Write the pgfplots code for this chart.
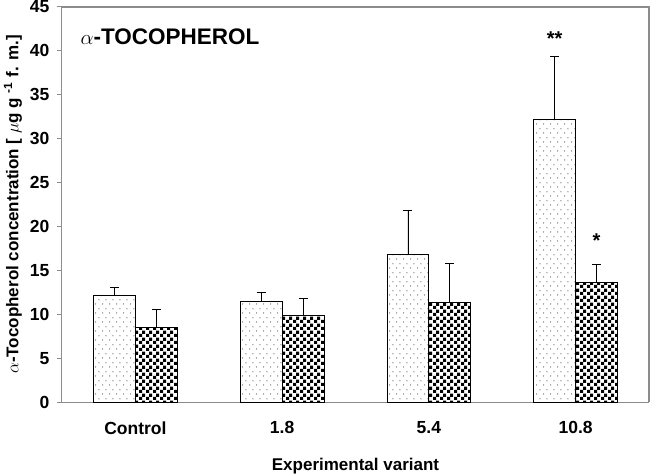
\documentclass[border=0pt]{standalone}
\usepackage{pgfplots}
\pgfplotsset{compat=1.18}
\usepackage{pgfplotstable}
\usepackage{fontspec}
\setmainfont{Liberation Sans}
\usetikzlibrary{patterns.meta}

\definecolor{axisgray}{RGB}{140,140,140}

% sparse staggered dots
\tikzdeclarepattern{name=sparsedots, type=uncolored,
  bottom left={(0pt,0pt)}, top right={(7.3pt,8.6pt)}, tile size={(7.3pt,8.6pt)},
  code={\fill (1.8pt,2.15pt) circle (0.6pt); \fill (5.45pt,6.45pt) circle (0.6pt);}}
% checkerboard, ~3.3pt squares
\tikzdeclarepattern{name=checker, type=uncolored,
  bottom left={(0pt,0pt)}, top right={(6.6pt,6.6pt)}, tile size={(6.6pt,6.6pt)},
  code={\fill (0pt,0pt) rectangle (3.3pt,3.3pt); \fill (3.3pt,3.3pt) rectangle (6.6pt,6.6pt);}}

% x = category index, y = mean, e = SD (upper only)
\pgfplotstableread{
x y e
0 12.19 0.87
1 11.50 0.95
2 16.82 5.05
3 32.23 7.18
}\dotted
\pgfplotstableread{
x y e
0 8.46 2.13
1 9.91 1.86
2 11.39 4.36
3 13.63 2.01
}\checked

\begin{document}
\begin{tikzpicture}
\begin{axis}[
    scale only axis,
    width=587pt, height=395pt,
    xmin=-0.5, xmax=3.5,
    ymin=0, ymax=45,
    clip=false,
    axis x line*=bottom, axis y line*=left,
    axis line style={axisgray, line width=1pt, -},
    ytick={0,5,...,45},
    xtick={0,1,2,3},
    xticklabels={Control,1.8,5.4,10.8},
    extra x ticks={-0.5,0.5,1.5,2.5},
    extra x tick labels={},
    extra x tick style={major tick length=6pt, tick style={axisgray, line width=1pt}},
    x tick style={draw=none},
    y tick style={axisgray, line width=1pt},
    tick align=outside,
    major tick length=5pt,
    /pgf/number format/assume math mode=true,
    ticklabel style={font=\bfseries\fontsize{17.5}{20}\selectfont},
    xticklabel style={yshift=-11pt},
    yticklabel style={xshift=-4pt},
    every axis y label/.style={at={(rel axis cs:0,0.5)}, xshift=-49pt, rotate=90, anchor=center},
    every axis x label/.style={at={(rel axis cs:0.5,0)}, anchor=base, yshift=-68pt},
    label style={font=\bfseries\fontsize{17}{20}\selectfont},
    ylabel={$\alpha$-Tocopherol concentration [ $\mu$g g \textsuperscript{-1} f. m.]},
    xlabel={Experimental variant},
    ybar=0pt, bar width=0.2857,
    error bars/error bar style={black, line width=0.8pt},
    error bars/error mark options={rotate=90, mark size=4.5pt, line width=0.8pt, black},
  ]
  \addplot[draw=black, line width=0.8pt, fill=white, postaction={pattern=sparsedots, pattern color=black!80},
    error bars/.cd, y dir=plus, y explicit]
    table[x=x, y=y, y error=e] {\dotted};
  \addplot[draw=black, line width=0.8pt, fill=white, postaction={pattern=checker, pattern color=black},
    error bars/.cd, y dir=plus, y explicit]
    table[x=x, y=y, y error=e] {\checked};

  \node[anchor=base west, font=\bfseries\fontsize{22.5}{26}\selectfont] at (axis cs:-0.398,40.77) {$\alpha$-TOCOPHEROL};
  \node[font=\bfseries\fontsize{20}{22}\selectfont] at (axis cs:2.857,41.4) {**};
  \node[font=\bfseries\fontsize{20}{22}\selectfont] at (axis cs:3.143,18.4) {*};

  % top and right frame
  \draw[draw=axisgray, line width=1.4pt] (rel axis cs:0,1) -- (rel axis cs:1,1) -- (rel axis cs:1,0);

  \coordinate (bl) at (rel axis cs:0,0);
  \coordinate (tr) at (rel axis cs:1,1);
\end{axis}
\pgfresetboundingbox
\path ([xshift=-62pt,yshift=-71pt]bl) rectangle ([xshift=3pt,yshift=7pt]tr);
\end{tikzpicture}
\end{document}
